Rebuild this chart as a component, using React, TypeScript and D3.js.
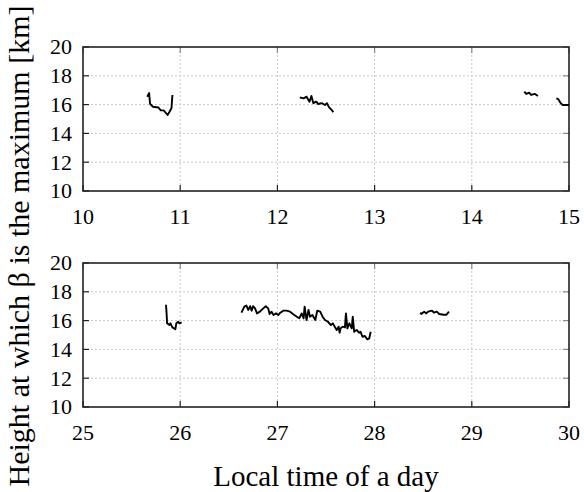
import React, { useRef, useEffect } from 'react';
import * as d3 from 'd3';

// local time [h], height [km]
const day1SegA: [number, number][] = [
  [10.66, 16.55], [10.68, 16.8], [10.69, 16.05], [10.72, 15.85], [10.775, 15.8],
  [10.8, 15.6], [10.83, 15.6], [10.855, 15.4], [10.87, 15.28], [10.89, 15.5],
  [10.91, 15.75], [10.92, 16.67],
];
const day1SegB: [number, number][] = [
  [12.23, 16.5], [12.27, 16.43], [12.3, 16.55], [12.33, 16.2], [12.35, 16.6],
  [12.37, 16.1], [12.4, 16.2], [12.42, 16.04], [12.455, 16.1], [12.49, 15.97],
  [12.51, 16.1], [12.53, 15.82], [12.56, 15.62], [12.575, 15.47],
];
const day1SegC: [number, number][] = [
  [14.54, 16.9], [14.56, 16.74], [14.59, 16.83], [14.61, 16.67], [14.65, 16.74],
  [14.68, 16.6],
];
const day1SegD: [number, number][] = [
  [14.87, 16.44], [14.89, 16.38], [14.91, 16.14], [14.935, 15.97], [15.0, 15.97],
];

const day2SegA: [number, number][] = [
  [25.854, 17.1], [25.86, 16.5], [25.865, 15.81], [25.89, 15.69], [25.9, 15.81],
  [25.92, 15.53], [25.95, 15.4], [25.96, 15.81], [25.98, 15.92], [25.99, 15.81],
  [26.015, 15.88],
];
const day2SegB: [number, number][] = [
  [26.63, 16.55], [26.66, 16.97], [26.68, 17.05], [26.7, 16.74], [26.72, 17.0],
  [26.735, 16.69], [26.75, 17.0], [26.77, 16.85], [26.79, 16.5], [26.82, 16.62],
  [26.855, 16.85], [26.88, 17.0], [26.905, 16.85], [26.92, 16.46], [26.94, 16.62],
  [26.96, 16.39], [26.985, 16.5], [27.01, 16.39], [27.03, 16.55], [27.06, 16.69],
  [27.095, 16.69], [27.13, 16.62], [27.16, 16.46], [27.2, 16.27], [27.225, 16.16],
  [27.25, 16.5], [27.27, 16.16], [27.28, 16.97], [27.3, 16.04], [27.32, 16.74],
  [27.335, 16.27], [27.36, 16.39], [27.39, 16.04], [27.41, 16.69], [27.44, 16.62],
  [27.465, 16.27], [27.49, 16.04], [27.52, 15.92], [27.55, 15.69], [27.57, 15.81],
  [27.59, 15.58], [27.61, 15.35], [27.63, 15.58], [27.64, 15.16], [27.65, 15.46],
  [27.67, 15.58], [27.695, 15.53], [27.705, 16.5], [27.72, 15.46], [27.74, 15.81],
  [27.765, 15.46], [27.775, 16.27], [27.79, 15.23], [27.815, 15.35], [27.84, 15.16],
  [27.855, 15.23], [27.875, 14.88], [27.9, 14.93], [27.925, 14.7], [27.945, 14.77],
  [27.96, 15.23],
];
const day2SegC: [number, number][] = [
  [28.47, 16.55], [28.48, 16.46], [28.51, 16.62], [28.53, 16.5], [28.55, 16.62],
  [28.59, 16.69], [28.61, 16.55], [28.64, 16.62], [28.665, 16.46], [28.71, 16.41],
  [28.74, 16.41], [28.765, 16.62],
];

const heightTicks = [10, 12, 14, 16, 18, 20];
const day1Ticks = [10, 11, 12, 13, 14, 15];
const day2Ticks = [25, 26, 27, 28, 29, 30];

const panels = [
  { domain: [10, 15], ticks: day1Ticks, segments: [day1SegA, day1SegB, day1SegC, day1SegD], top: 47, bottom: 191 },
  { domain: [25, 30], ticks: day2Ticks, segments: [day2SegA, day2SegB, day2SegC], top: 263, bottom: 407 },
];

const App = () => {
  const svgRef = useRef<SVGSVGElement>(null);
  const width = 584;
  const height = 492;

  useEffect(() => {
    const svg = d3.select(svgRef.current);
    svg.selectAll('*').remove();

    const left = 83;
    const right = 569;

    panels.forEach(p => {
      const x = d3.scaleLinear().domain(p.domain).range([left, right]);
      const y = d3.scaleLinear().domain([10, 20]).range([p.bottom, p.top]);
      const g = svg.append('g');

      // dotted grid
      g.selectAll('.gy').data(heightTicks.slice(1, -1)).enter().append('line')
        .attr('x1', left).attr('x2', right)
        .attr('y1', d => y(d)).attr('y2', d => y(d))
        .attr('stroke', '#c8c8c8').attr('stroke-width', 1).attr('stroke-dasharray', '2,2');
      g.selectAll('.gx').data(p.ticks.slice(1, -1)).enter().append('line')
        .attr('y1', p.top).attr('y2', p.bottom)
        .attr('x1', d => x(d)).attr('x2', d => x(d))
        .attr('stroke', '#c8c8c8').attr('stroke-width', 1).attr('stroke-dasharray', '2,2');

      // inner ticks
      g.selectAll('.tl').data(heightTicks).enter().append('line')
        .attr('x1', left).attr('x2', left + 6)
        .attr('y1', d => y(d)).attr('y2', d => y(d))
        .attr('stroke', '#222').attr('stroke-width', 1.2);
      g.selectAll('.tr').data(heightTicks).enter().append('line')
        .attr('x1', right - 6).attr('x2', right)
        .attr('y1', d => y(d)).attr('y2', d => y(d))
        .attr('stroke', '#888').attr('stroke-width', 1.2);
      g.selectAll('.tb').data(p.ticks).enter().append('line')
        .attr('y1', p.bottom).attr('y2', p.bottom - 6)
        .attr('x1', d => x(d)).attr('x2', d => x(d))
        .attr('stroke', '#222').attr('stroke-width', 1.2);
      g.selectAll('.tt').data(p.ticks).enter().append('line')
        .attr('y1', p.top).attr('y2', p.top + 6)
        .attr('x1', d => x(d)).attr('x2', d => x(d))
        .attr('stroke', '#888').attr('stroke-width', 1.2);

      // frame
      g.append('rect')
        .attr('x', left).attr('y', p.top)
        .attr('width', right - left).attr('height', p.bottom - p.top)
        .attr('fill', 'none').attr('stroke', '#222').attr('stroke-width', 1.6);

      // tick labels
      g.selectAll('.ly').data(heightTicks).enter().append('text')
        .attr('x', left - 11).attr('y', d => y(d))
        .attr('dy', '0.34em')
        .attr('text-anchor', 'end')
        .attr('font-size', 22)
        .text(d => d);
      g.selectAll('.lx').data(p.ticks).enter().append('text')
        .attr('x', d => x(d)).attr('y', p.bottom + 33)
        .attr('text-anchor', 'middle')
        .attr('font-size', 22)
        .text(d => d);

      // data
      const line = d3.line<[number, number]>()
        .x(d => x(d[0]))
        .y(d => y(d[1]));
      p.segments.forEach(seg => {
        g.append('path')
          .datum(seg)
          .attr('fill', 'none')
          .attr('stroke', '#000')
          .attr('stroke-width', 1.9)
          .attr('stroke-linejoin', 'round')
          .attr('d', line);
      });
    });

    // axis labels
    svg.append('text')
      .attr('x', (left + right) / 2).attr('y', 486)
      .attr('text-anchor', 'middle')
      .attr('font-size', 29)
      .text('Local time of a day');

    svg.append('text')
      .attr('transform', 'translate(29,246) rotate(-90)')
      .attr('text-anchor', 'middle')
      .attr('font-size', 30)
      .text('Height at which β is the maximum [km]');
  }, []);

  return (
    <svg ref={svgRef} width={width} height={height} fontFamily="Liberation Serif"
      style={{ position: 'absolute', left: 0, top: 0, background: '#fff', fontFamily: 'Liberation Serif' }} />
  );
};

export default App;
